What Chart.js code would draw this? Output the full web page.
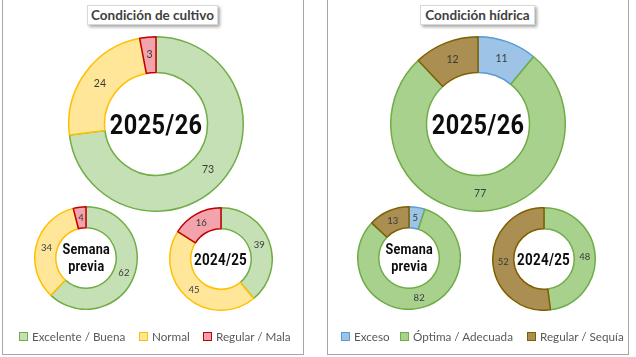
<!DOCTYPE html>
<html>
<head>
<meta charset="utf-8">
<script src="https://cdn.jsdelivr.net/npm/chart.js@4.4.1/dist/chart.umd.min.js"></script>
<style>
  html, body { margin: 0; padding: 0; background: #ffffff; }
  body { width: 636px; height: 357px; position: relative; overflow: hidden; font-family: Lato, "Open Sans", sans-serif; }
  .panel { position: absolute; border: 1.5px solid #a6a6a6; border-top: none; box-sizing: border-box; }
  .title { position: absolute; background: #fff; border: 1px solid #d9d9d9; box-shadow: 2px 2px 3px rgba(0,0,0,0.35);
           font-weight: bold; font-size: 13.5px; color: #404040; text-align: center; line-height: 19px; height: 20px; box-sizing: border-box; }
  .box { position: absolute; }
  .box canvas { position: absolute; left: 0; top: 0; }
  .center { position: absolute; display: flex; align-items: center; justify-content: center; text-align: center;
            font-family: Roboto, sans-serif; font-weight: bold; color: #0d0d0d; pointer-events: none; }
  .center span { display: inline-block; transform: scaleX(0.84); transform-origin: center; }
  .legend { position: absolute; top: 328px; height: 16px; font-size: 11.7px; color: #595959; white-space: nowrap; }
  .legend span.item { position: absolute; top: 0; line-height: 16px; }
  .legend i { display: inline-block; width: 7px; height: 7px; border: 1px solid; margin-right: 4px; vertical-align: 0px; }
</style>
</head>
<body>
<div class="panel" style="left:2px; top:-2px; width:302px; height:357px;"></div>
<div class="panel" style="left:327px; top:-2px; width:302px; height:357px;"></div>

<div class="title" style="left:87px; top:5px; width:131px;">Condición de cultivo</div>
<div class="title" style="left:420px; top:5px; width:115px;">Condición hídrica</div>

<div id="charts"></div>

<div class="legend" id="legL"></div>
<div class="legend" id="legR"></div>

<script>
// ---- Data ----
const cultivoCategories = ["Excelente / Buena", "Normal", "Regular / Mala"];
const cultivoActual   = [73, 24, 3];   // 2025/26
const cultivoPrevia   = [62, 34, 4];   // Semana previa
const cultivoAnterior = [39, 45, 16];  // 2024/25

const hidricaCategories = ["Exceso", "Óptima / Adecuada", "Regular / Sequía"];
const hidricaActual   = [11, 77, 12];  // 2025/26
const hidricaPrevia   = [5, 82, 13];   // Semana previa
const hidricaAnterior = [0, 48, 52];   // 2024/25

const centerLabels = ["2025/26", "Semana<br>previa", "2024/25"];

// ---- Styles ----
const cultivoFill   = ["#c5e0b4", "#ffe699", "#f2a3ab"];
const cultivoBorder = ["#70ad47", "#ffc000", "#c00000"];
const hidricaFill   = ["#9dc3e6", "#a9d18e", "#aa8e52"];
const hidricaBorder = ["#5b9bd5", "#70ad47", "#7f6000"];

const valueLabels = {
  id: 'valueLabels',
  afterDatasetsDraw(chart, args, opts) {
    const ctx = chart.ctx;
    const meta = chart.getDatasetMeta(0);
    const data = chart.data.datasets[0].data;
    ctx.save();
    ctx.font = opts.size + 'px Lato, "Open Sans", sans-serif';
    ctx.fillStyle = '#3a3a3a';
    ctx.textAlign = 'center';
    ctx.textBaseline = 'middle';
    meta.data.forEach((arc, i) => {
      if (!data[i]) return;
      const p = arc.tooltipPosition();
      ctx.fillText(String(data[i]), p.x, p.y);
    });
    ctx.restore();
  }
};

function donut(x, y, size, labels, values, fill, border, labelSize, centerText, centerStyle) {
  const box = document.createElement('div');
  box.className = 'box';
  box.style.left = x + 'px'; box.style.top = y + 'px';
  box.style.width = size + 'px'; box.style.height = size + 'px';
  const cv = document.createElement('canvas');
  cv.width = size; cv.height = size;
  box.appendChild(cv);
  const c = document.createElement('div');
  c.className = 'center';
  c.style.left = '0px'; c.style.top = '0px'; c.style.width = size + 'px'; c.style.height = size + 'px';
  const s = document.createElement('span');
  Object.assign(s.style, centerStyle);
  s.innerHTML = centerText;
  c.appendChild(s);
  box.appendChild(c);
  document.getElementById('charts').appendChild(box);
  new Chart(cv, {
    type: 'doughnut',
    data: { labels: labels, datasets: [{ data: values, backgroundColor: fill, borderColor: border, borderWidth: 1.5 }] },
    options: {
      responsive: false, animation: false, devicePixelRatio: 1,
      cutout: '59%',
      layout: { padding: 0 },
      plugins: { legend: { display: false }, tooltip: { enabled: false }, valueLabels: { size: labelSize } }
    },
    plugins: [valueLabels]
  });
}

const bigStyle = { fontSize: '28px', letterSpacing: '0.5px' };
const smallStyle = { fontSize: '16px', letterSpacing: '0.3px' };
const twoLine = { fontSize: '15px', letterSpacing: '0.3px', lineHeight: '17px' };

donut(68, 36, 176, cultivoCategories, cultivoActual, cultivoFill, cultivoBorder, 10.5, centerLabels[0], bigStyle);
donut(34, 206, 104, cultivoCategories, cultivoPrevia, cultivoFill, cultivoBorder, 9.5, centerLabels[1], twoLine);
donut(169, 207, 104, cultivoCategories, cultivoAnterior, cultivoFill, cultivoBorder, 9.5, centerLabels[2], smallStyle);

donut(390, 36, 176, hidricaCategories, hidricaActual, hidricaFill, hidricaBorder, 10.5, centerLabels[0], bigStyle);
donut(357, 206, 104, hidricaCategories, hidricaPrevia, hidricaFill, hidricaBorder, 9.5, centerLabels[1], twoLine);
donut(492, 207, 104, hidricaCategories, hidricaAnterior, hidricaFill, hidricaBorder, 9.5, centerLabels[2], smallStyle);

function legend(id, cats, fill, border, xsSquare) {
  const el = document.getElementById(id);
  cats.forEach((t, i) => {
    const s = document.createElement('span');
    s.className = 'item';
    s.style.left = xsSquare[i] + 'px';
    s.innerHTML = '<i style="background:' + fill[i] + ';border-color:' + border[i] + '"></i>' + t;
    el.appendChild(s);
  });
}
legend('legL', cultivoCategories, cultivoFill, cultivoBorder, [19, 139, 203]);
legend('legR', hidricaCategories, hidricaFill, hidricaBorder, [341, 400, 527]);
</script>
</body>
</html>
